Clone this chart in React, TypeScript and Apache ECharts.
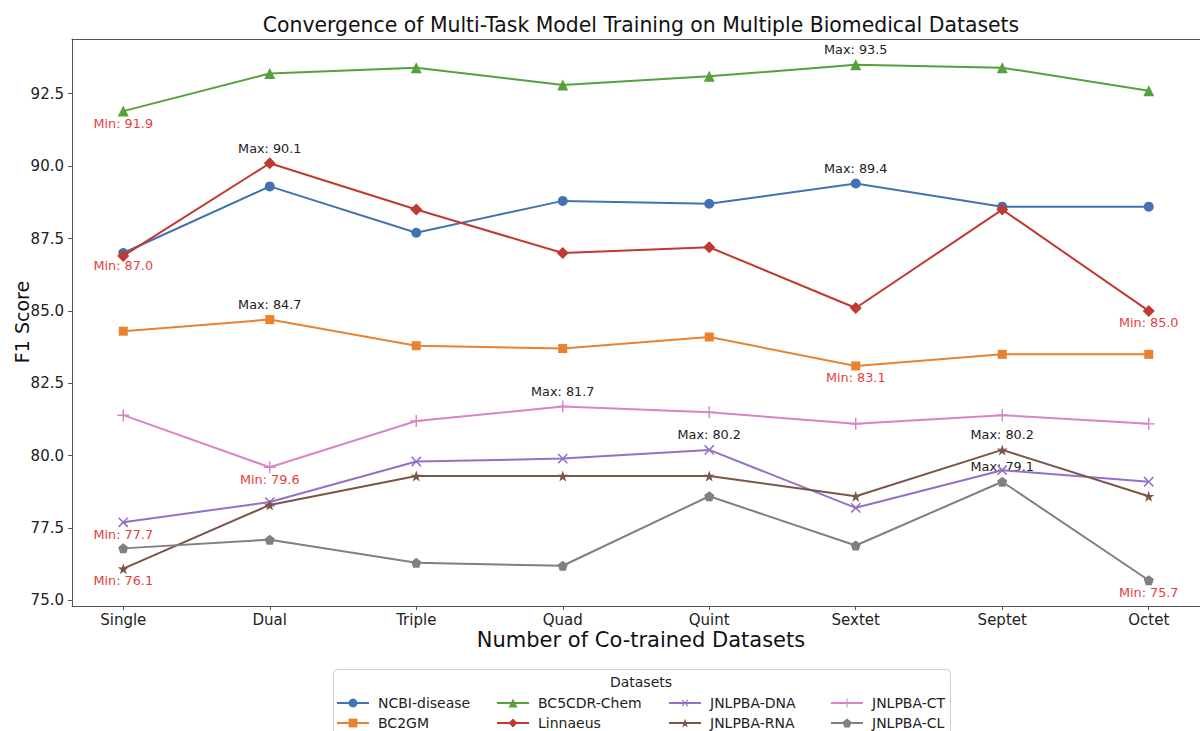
import React, { useEffect, useRef } from "react";
import * as echarts from "echarts";

const categories = ["Single", "Dual", "Triple", "Quad", "Quint", "Sextet", "Septet", "Octet"];
const yTicks = [75.0, 77.5, 80.0, 82.5, 85.0, 87.5, 90.0, 92.5];

const ncbiDisease = [87.0, 89.3, 87.7, 88.8, 88.7, 89.4, 88.6, 88.6];
const bc2gm = [84.3, 84.7, 83.8, 83.7, 84.1, 83.1, 83.5, 83.5];
const bc5cdrChem = [91.9, 93.2, 93.4, 92.8, 93.1, 93.5, 93.4, 92.6];
const linnaeus = [86.9, 90.1, 88.5, 87.0, 87.2, 85.1, 88.5, 85.0];
const jnlpbaDna = [77.7, 78.4, 79.8, 79.9, 80.2, 78.2, 79.5, 79.1];
const jnlpbaRna = [76.1, 78.3, 79.3, 79.3, 79.3, 78.6, 80.2, 78.6];
const jnlpbaCt = [81.4, 79.6, 81.2, 81.7, 81.5, 81.1, 81.4, 81.1];
const jnlpbaCl = [76.8, 77.1, 76.3, 76.2, 78.6, 76.9, 79.1, 75.7];

const seriesNames = [
  "NCBI-disease",
  "BC2GM",
  "BC5CDR-Chem",
  "Linnaeus",
  "JNLPBA-DNA",
  "JNLPBA-RNA",
  "JNLPBA-CT",
  "JNLPBA-CL",
];
const seriesValues = [ncbiDisease, bc2gm, bc5cdrChem, linnaeus, jnlpbaDna, jnlpbaRna, jnlpbaCt, jnlpbaCl];
const colors = ["#4372b4", "#e8822f", "#56a03e", "#bf3a30", "#9370c8", "#7d5548", "#d884c8", "#808080"];

const STAR = "path://M50,0 L61.8,35.1 L97.6,34.5 L69,56.1 L79.4,90.5 L50,69.8 L20.6,90.5 L31,56.1 L2.4,34.5 L38.2,35.1 Z";
const PENT = "path://M50,0 L97.6,34.5 L79.4,90.5 L20.6,90.5 L2.4,34.5 Z";
const PLUS = "path://M44,0H56V44H100V56H56V100H44V56H0V44H44Z";

const symbols = [
  { symbol: "circle", size: 10, rotate: 0 },
  { symbol: "rect", size: 9, rotate: 0 },
  { symbol: "triangle", size: 11, rotate: 0 },
  { symbol: "diamond", size: 12, rotate: 0 },
  { symbol: PLUS, size: 13, rotate: 45 },
  { symbol: STAR, size: 11, rotate: 0 },
  { symbol: PLUS, size: 12, rotate: 0 },
  { symbol: PENT, size: 10, rotate: 0 },
];

const legendPos = [
  { left: 336, top: 696 },
  { left: 336, top: 716 },
  { left: 496, top: 696 },
  { left: 496, top: 716 },
  { left: 668, top: 696 },
  { left: 668, top: 716 },
  { left: 830, top: 696 },
  { left: 830, top: 716 },
];

const FONT = "DejaVu Sans";

export default function App() {
  const ref = useRef<HTMLDivElement>(null);
  useEffect(() => {
    if (!ref.current) return;
    const chart = echarts.init(ref.current, null, { renderer: "svg" });

    const series = seriesNames.map((name, i) => {
      const vals = seriesValues[i];
      const maxV = Math.max(...vals);
      const minV = Math.min(...vals);
      const maxI = vals.indexOf(maxV);
      const minI = vals.indexOf(minV);
      return {
        name,
        type: "line",
        data: vals.map((v, j) => [j, v]),
        symbol: symbols[i].symbol,
        symbolSize: symbols[i].size,
        symbolRotate: symbols[i].rotate,
        showSymbol: true,
        lineStyle: { color: colors[i], width: 2 },
        itemStyle: { color: colors[i] },
        emphasis: { disabled: true },
        z: 2 + i,
        markPoint: {
          symbol: "circle",
          symbolSize: 0,
          silent: true,
          data: [
            {
              coord: [maxI, maxV],
              value: maxV,
              label: {
                show: true,
                position: "inside",
                offset: [0, -15],
                formatter: "Max: " + maxV.toFixed(1),
                color: "#222",
                fontSize: 12.8,
                fontFamily: FONT,
              },
            },
            {
              coord: [minI, minV],
              value: minV,
              label: {
                show: true,
                position: "inside",
                offset: [0, 12],
                formatter: "Min: " + minV.toFixed(1),
                color: "#e53e3e",
                fontSize: 12.8,
                fontFamily: FONT,
              },
            },
          ],
        },
      };
    });

    const legends = seriesNames.map((name, i) => ({
      data: [name],
      left: legendPos[i].left,
      top: legendPos[i].top,
      itemWidth: 32,
      itemHeight: 11,
      padding: 0,
      itemGap: 0,
      selectedMode: false,
      textStyle: { fontSize: 14, color: "#222", fontFamily: FONT, padding: [0, 0, 0, 4] },
    }));

    chart.setOption({
      animation: false,
      backgroundColor: "#fff",
      textStyle: { fontFamily: FONT },
      grid: { left: 72, top: 39, right: -10, bottom: 125, containLabel: false },
      xAxis: [
        {
          type: "value",
          min: -0.35,
          max: 7.35,
          axisLine: { show: true, onZero: false, lineStyle: { color: "#555", width: 1 } },
          axisTick: { show: true, length: 4, lineStyle: { color: "#555" }, customValues: categories.map((_, i) => i) },
          axisLabel: {
            show: true,
            fontSize: 15,
            color: "#222",
            margin: 6,
            fontFamily: FONT,
            customValues: categories.map((_, i) => i),
            formatter: (v: number) => categories[Math.round(v)] ?? "",
          },
          splitLine: { show: false },
        },
        {
          type: "value",
          position: "top",
          min: -0.35,
          max: 7.35,
          axisLine: { show: true, onZero: false, lineStyle: { color: "#555", width: 1 } },
          axisTick: { show: false },
          axisLabel: { show: false },
          splitLine: { show: false },
        },
      ],
      yAxis: {
        type: "value",
        min: 74.81,
        max: 94.39,
        axisLine: { show: true, onZero: false, lineStyle: { color: "#555", width: 1 } },
        axisTick: { show: true, length: 4, lineStyle: { color: "#555" }, customValues: yTicks },
        axisLabel: {
          show: true,
          fontSize: 15,
          color: "#222",
          margin: 8,
          fontFamily: FONT,
          customValues: yTicks,
          formatter: (v: number) => v.toFixed(1),
        },
        splitLine: { show: false },
      },
      legend: legends,
      series,
      graphic: [
        {
          type: "text",
          x: 641,
          y: 25,
          style: {
            text: "Convergence of Multi-Task Model Training on Multiple Biomedical Datasets",
            fontSize: 20.4,
            fontFamily: FONT,
            fill: "#111",
            align: "center",
            verticalAlign: "middle",
          },
        },
        {
          type: "text",
          x: 641,
          y: 640,
          style: {
            text: "Number of Co-trained Datasets",
            fontSize: 21,
            fontFamily: FONT,
            fill: "#111",
            align: "center",
            verticalAlign: "middle",
          },
        },
        {
          type: "text",
          x: 22,
          y: 322,
          rotation: Math.PI / 2,
          style: {
            text: "F1 Score",
            fontSize: 19,
            fontFamily: FONT,
            fill: "#111",
            align: "center",
            verticalAlign: "middle",
          },
        },
        {
          type: "rect",
          shape: { x: 333.5, y: 669.5, width: 617, height: 80, r: 4 },
          style: { fill: "#fff", stroke: "#d0d0d0", lineWidth: 1 },
          z: -1,
        },
        {
          type: "text",
          x: 641,
          y: 682,
          style: {
            text: "Datasets",
            fontSize: 14,
            fontFamily: FONT,
            fill: "#222",
            align: "center",
            verticalAlign: "middle",
          },
        },
      ],
    });
    return () => chart.dispose();
  }, []);
  return <div ref={ref} style={{ position: "absolute", left: 0, top: 0, width: 1200, height: 731 }} />;
}
